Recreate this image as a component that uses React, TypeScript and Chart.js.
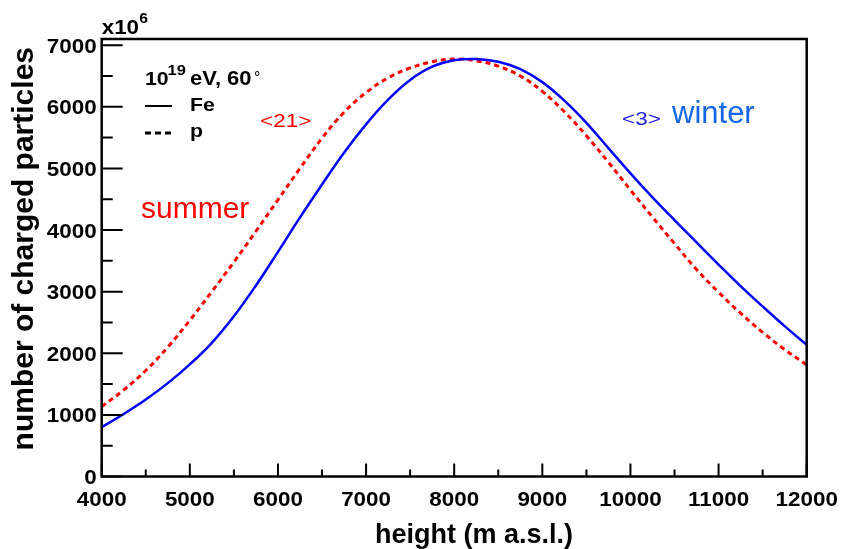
import { useEffect, useRef } from "react";
import { Chart, registerables } from "chart.js";

Chart.register(...registerables);

// height above sea level (m)
const HEIGHTS = [
  4000, 4250, 4500, 4750, 5000, 5250, 5500, 5750, 6000, 6250, 6500, 6750, 7000,
  7250, 7500, 7750, 8000, 8250, 8500, 8750, 9000, 9250, 9500, 9750, 10000,
  10250, 10500, 10750, 11000, 11250, 11500, 11750, 12000,
];
// number of charged particles (x10^6), Fe primary (winter atmosphere)
const FE = [
  800, 1015, 1250, 1515, 1820, 2170, 2600, 3100, 3645, 4205, 4740, 5255, 5715,
  6115, 6435, 6650, 6755, 6775, 6730, 6610, 6400, 6100, 5740, 5330, 4920, 4530,
  4160, 3800, 3440, 3090, 2760, 2440, 2136,
];
// number of charged particles (x10^6), proton primary (summer atmosphere)
const PROTON = [
  1134, 1405, 1720, 2100, 2535, 3000, 3480, 3980, 4490, 5000, 5490, 5910, 6230,
  6470, 6630, 6730, 6775, 6745, 6660, 6500, 6250, 5920, 5530, 5100, 4650, 4210,
  3780, 3360, 2990, 2650, 2340, 2060, 1811,
];

const X_TICKS = [4000, 5000, 6000, 7000, 8000, 9000, 10000, 11000, 12000];
const X_MINOR = [4500, 5500, 6500, 7500, 8500, 9500, 10500, 11500];
const Y_TICKS = [0, 1000, 2000, 3000, 4000, 5000, 6000, 7000];
const Y_MINOR = [500, 1500, 2500, 3500, 4500, 5500, 6500];

const X_TITLE = "height (m a.s.l.)";
const Y_TITLE = "number of charged particles";

const FONT = '"Liberation Sans", Arial, Helvetica, sans-serif';

function drawText(
  ctx: CanvasRenderingContext2D,
  s: string,
  x: number,
  y: number,
  size: number,
  opt: { bold?: boolean; color?: string; align?: CanvasTextAlign; baseline?: CanvasTextBaseline; sx?: number } = {}
) {
  const sx = opt.sx ?? 1;
  ctx.save();
  ctx.font = `${opt.bold ? "bold " : ""}${size}px ${FONT}`;
  ctx.fillStyle = opt.color ?? "#000";
  ctx.textAlign = opt.align ?? "left";
  ctx.textBaseline = opt.baseline ?? "alphabetic";
  ctx.translate(x, y);
  ctx.scale(sx, 1);
  ctx.fillText(s, 0, 0);
  const w = ctx.measureText(s).width * sx;
  ctx.restore();
  return w;
}

const framePlugin = {
  id: "rootFrame",
  afterDraw(chart: any) {
    const ctx: CanvasRenderingContext2D = chart.ctx;
    const { left, top, right, bottom } = chart.chartArea;
    const xs = chart.scales.x;
    const ys = chart.scales.y;
    ctx.save();
    ctx.strokeStyle = "#000";
    ctx.lineWidth = 2.5;
    ctx.strokeRect(left, top, right - left, bottom - top);

    ctx.lineWidth = 2;
    ctx.beginPath();
    for (const v of X_TICKS) {
      const px = xs.getPixelForValue(v);
      ctx.moveTo(px, bottom);
      ctx.lineTo(px, bottom - 13);
    }
    for (const v of X_MINOR) {
      const px = xs.getPixelForValue(v);
      ctx.moveTo(px, bottom);
      ctx.lineTo(px, bottom - 7);
    }
    for (const v of Y_TICKS) {
      const py = ys.getPixelForValue(v);
      ctx.moveTo(left, py);
      ctx.lineTo(left + 21, py);
    }
    for (const v of Y_MINOR) {
      const py = ys.getPixelForValue(v);
      ctx.moveTo(left, py);
      ctx.lineTo(left + 11, py);
    }
    ctx.stroke();

    // tick labels
    for (const v of X_TICKS) {
      drawText(ctx, String(v), xs.getPixelForValue(v), bottom + 29.5, 20, { bold: true, align: "center", sx: 1.12 });
    }
    for (const v of Y_TICKS) {
      drawText(ctx, String(v), left - 5, ys.getPixelForValue(v) + 7.5, 20, { bold: true, align: "right", sx: 1.12 });
    }

    // exponent
    drawText(ctx, "x10", left, 34, 20, { bold: true, sx: 1.12 });
    drawText(ctx, "6", left + 37.5, 23, 14, { bold: true, sx: 1.12 });

    // axis titles
    drawText(ctx, X_TITLE, 573, 543, 27, { bold: true, align: "right" });
    ctx.save();
    ctx.translate(33, 47);
    ctx.rotate(-Math.PI / 2);
    drawText(ctx, Y_TITLE, 0, 0, 30, { bold: true, align: "right" });
    ctx.restore();

    // legend
    drawText(ctx, "10", 145, 85, 19, { bold: true, sx: 1.12 });
    drawText(ctx, "19", 167.5, 75, 15, { bold: true, sx: 1.1 });
    drawText(ctx, "eV, 60", 190, 85, 20, { bold: true, sx: 1.1 });
    drawText(ctx, "°", 254, 83, 16, {});
    ctx.lineWidth = 2;
    ctx.beginPath();
    ctx.moveTo(145, 106);
    ctx.lineTo(172, 106);
    ctx.stroke();
    ctx.lineWidth = 3;
    ctx.setLineDash([6, 4]);
    ctx.beginPath();
    ctx.moveTo(145, 133);
    ctx.lineTo(171, 133);
    ctx.stroke();
    ctx.setLineDash([]);
    drawText(ctx, "Fe", 190, 110.5, 19, { bold: true, sx: 1.12 });
    drawText(ctx, "p", 190, 137, 19, { bold: true, sx: 1.12 });

    // annotations
    drawText(ctx, "<21>", 260, 127, 18, { color: "#ff0000", sx: 1.25 });
    drawText(ctx, "summer", 141, 218, 30, { color: "#ff0000" });
    drawText(ctx, "<3>", 622, 125, 18, { color: "#2222dd", sx: 1.25 });
    drawText(ctx, "winter", 672, 123, 31, { color: "#1466e8" });
    ctx.restore();
  },
};

export default function App() {
  const ref = useRef<HTMLCanvasElement | null>(null);

  useEffect(() => {
    if (!ref.current) return;
    const chart = new Chart(ref.current, {
      type: "line",
      data: {
        datasets: [
          {
            label: "Fe",
            data: HEIGHTS.map((h, i) => ({ x: h, y: FE[i] })),
            borderColor: "#0000ff",
            borderWidth: 2.5,
            pointRadius: 0,
            fill: false,
            tension: 0.4,
          },
          {
            label: "p",
            data: HEIGHTS.map((h, i) => ({ x: h, y: PROTON[i] })),
            borderColor: "#ff0000",
            borderWidth: 3,
            borderDash: [5, 4],
            pointRadius: 0,
            fill: false,
            tension: 0.4,
          },
        ],
      },
      options: {
        animation: false,
        responsive: false,
        devicePixelRatio: 1,
        layout: { padding: { left: 101.7, right: 41.3, top: 39, bottom: 72.5 } },
        plugins: { legend: { display: false }, tooltip: { enabled: false } },
        scales: {
          x: { type: "linear", min: 4000, max: 12000, display: false },
          y: { type: "linear", min: 0, max: 7100, display: false },
        },
      },
      plugins: [framePlugin],
    });
    return () => chart.destroy();
  }, []);

  return (
    <div style={{ position: "fixed", left: 0, top: 0, width: 848, height: 549, background: "#fff" }}>
      <canvas ref={ref} width={848} height={549} />
    </div>
  );
}
